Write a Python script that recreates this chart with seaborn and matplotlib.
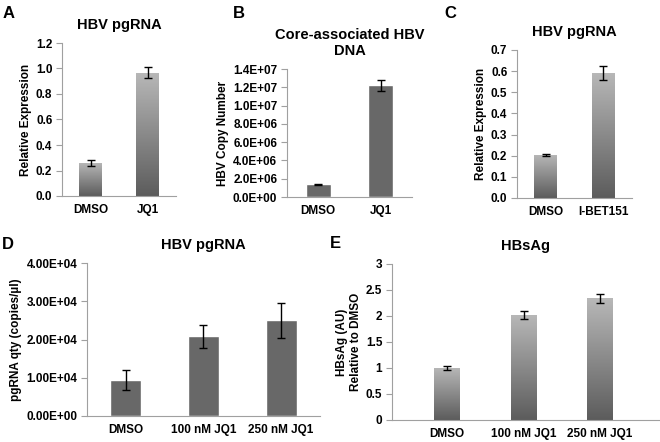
import numpy as np
import pandas as pd
import matplotlib
matplotlib.use("Agg")
import matplotlib.pyplot as plt
import seaborn as sns
from matplotlib.ticker import FuncFormatter, MultipleLocator

# panel A
a_groups = ['DMSO', 'JQ1']
a_vals = [0.26, 0.968]
a_err = [0.026, 0.043]
# panel B
b_groups = ['DMSO', 'JQ1']
b_vals = [1.4e6, 1.22e7]
b_err = [0.04e6, 0.065e7]
# panel C
c_groups = ['DMSO', 'I-BET151']
c_vals = [0.204, 0.592]
c_err = [0.004, 0.032]
# panel D
d_groups = ['DMSO', '100 nM JQ1', '250 nM JQ1']
d_vals = [9.4e3, 2.08e4, 2.5e4]
d_err = [2.5e3, 3.0e3, 4.6e3]
# panel E
e_groups = ['DMSO', '100 nM JQ1', '250 nM JQ1']
e_vals = [1.0, 2.02, 2.34]
e_err = [0.03, 0.08, 0.09]

sns.set_style('white')
plt.rcParams['font.family'] = ['Liberation Sans', 'DejaVu Sans']
plt.rcParams['font.weight'] = 'bold'
plt.rcParams['axes.labelweight'] = 'bold'
plt.rcParams['text.color'] = 'black'
plt.rcParams['axes.labelcolor'] = 'black'
plt.rcParams['axes.titlecolor'] = 'black'

SPINE = '#a0a0a0'
SOLID = '#686868'
TICK_FS = 8.5
grad = np.linspace(0, 1, 256).reshape(-1, 1)
grad_cmap = matplotlib.colors.LinearSegmentedColormap.from_list('g', ['#5c5c5c', '#b8b8b8'])


def panel(rect, groups, vals, errs, title, ylabel, ylim, step, fmt, gradient, width=0.4, xlim=None):
    ax = fig.add_axes(rect)
    df = pd.DataFrame({'group': groups, 'value': vals})
    sns.barplot(data=df, x='group', y='value', color=SOLID, width=width,
                saturation=1, errorbar=None, ax=ax)
    ax.errorbar(range(len(vals)), vals, yerr=errs, fmt='none', ecolor='black',
                elinewidth=1, capsize=3, capthick=1, zorder=5)
    ax.set_ylim(*ylim)
    if xlim is not None:
        ax.set_xlim(*xlim)
    else:
        ax.set_xlim(-0.5, len(vals) - 0.5)
    if gradient:
        for p in ax.patches:
            x0, y0 = p.get_x(), p.get_y()
            w, h = p.get_width(), p.get_height()
            im = ax.imshow(grad, cmap=grad_cmap, origin='lower', aspect='auto',
                           extent=(x0, x0 + w, y0, y0 + h), zorder=2)
            im.set_clip_path(p)
            p.set_facecolor('none')
            p.set_edgecolor('none')
    ax.yaxis.set_major_locator(MultipleLocator(step))
    ax.yaxis.set_major_formatter(FuncFormatter(fmt))
    ax.set_title(title, fontsize=10.5, fontweight='bold', pad=10, color='black')
    ax.set_xlabel('')
    ax.set_ylabel(ylabel, fontsize=TICK_FS, fontweight='bold', labelpad=3)
    for s in ['top', 'right']:
        ax.spines[s].set_visible(False)
    for s in ['left', 'bottom']:
        ax.spines[s].set_color(SPINE)
        ax.spines[s].set_linewidth(0.8)
    ax.tick_params(axis='y', length=4, width=0.8, color=SPINE, labelsize=TICK_FS, pad=3,
                   direction='out', left=True, labelcolor='black')
    ax.tick_params(axis='x', length=0, labelsize=TICK_FS, pad=6, labelcolor='black')
    for t in ax.get_xticklabels() + ax.get_yticklabels():
        t.set_fontweight('bold')
    return ax


fig = plt.figure(figsize=(6.6, 4.42), dpi=100)

panel([62 / 660, 1 - 196 / 442, 114 / 660, 153 / 442], a_groups, a_vals, a_err,
      'HBV pgRNA', 'Relative Expression', (0, 1.2), 0.2, lambda v, p: f'{v:.1f}', True)
panel([287 / 660, 1 - 197 / 442, 125 / 660, 128 / 442], b_groups, b_vals, b_err,
      'Core-associated HBV\nDNA', 'HBV Copy Number', (0, 1.4e7), 2e6,
      lambda v, p: f'{v:.1E}', False)
panel([517 / 660, 1 - 198 / 442, 115 / 660, 148 / 442], c_groups, c_vals, c_err,
      'HBV pgRNA', 'Relative Expression', (0, 0.7), 0.1, lambda v, p: f'{v:.1f}', True)
panel([87 / 660, 1 - 416 / 442, 233 / 660, 153 / 442], d_groups, d_vals, d_err,
      'HBV pgRNA', 'pgRNA qty (copies/µl)', (0, 4e4), 1e4, lambda v, p: f'{v:.2E}', False)
panel([392 / 660, 1 - 420 / 442, 267 / 660, 156 / 442], e_groups, e_vals, e_err,
      'HBsAg', 'HBsAg (AU)\nRelative to DMSO', (0, 3), 0.5, lambda v, p: f'{v:g}', True,
      width=0.33, xlim=(-0.72, 2.77))

for letter, x, y in [('A', 3, 14), ('B', 233, 13), ('C', 444, 13), ('D', 2, 244), ('E', 330, 243)]:
    fig.text(x / 660, 1 - y / 442, letter, fontsize=12, fontweight='bold', va='center', ha='left')

fig.savefig('out.png', dpi=100)
